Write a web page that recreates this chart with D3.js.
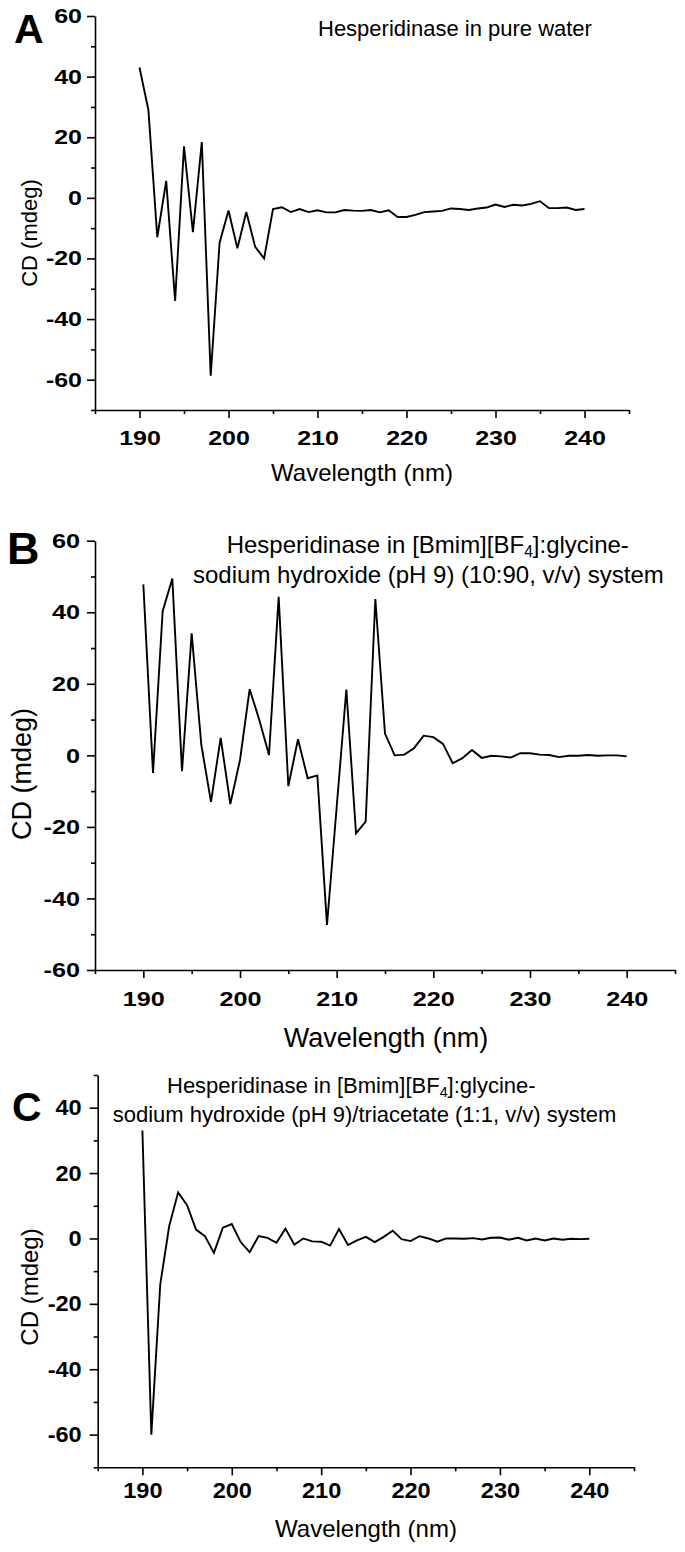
<!DOCTYPE html>
<html><head><meta charset="utf-8">
<script src="https://cdn.jsdelivr.net/npm/d3@7"></script>
<style>
body{margin:0;background:#fff}
svg{display:block;background:#fff}
text{font-family:"Liberation Sans",Arial,sans-serif;fill:#000}
</style>
</head><body>
<svg id="chart" width="685" height="1552"></svg>
<script>
// ---------- data ----------
const wavelength = [190,191,192,193,194,195,196,197,198,199,200,201,202,203,204,205,206,207,208,209,210,211,212,213,214,215,216,217,218,219,220,221,222,223,224,225,226,227,228,229,230,231,232,233,234,235,236,237,238,239,240];
const cdPureWater = [43,29,-13,5.6,-34,17,-11.3,18.4,-58.7,-14.8,-4.2,-16.6,-4.7,-16.2,-20,-3.7,-3.1,-4.7,-3.7,-4.7,-4.1,-4.8,-4.8,-4.0,-4.2,-4.3,-4.0,-4.8,-4.1,-6.3,-6.3,-5.6,-4.7,-4.5,-4.3,-3.5,-3.7,-4.0,-3.5,-3.2,-2.2,-3.0,-2.3,-2.5,-2.0,-1.1,-3.4,-3.4,-3.2,-4.0,-3.7];
const cdIonicLiquid = [47.8,-4.9,40.3,49.4,-4.4,34.1,2.9,-13,4.9,-13.6,-1.3,18.5,9.9,0.1,44.3,-8.6,4.5,-6.4,-5.6,-47.4,-14.5,18.4,-21.8,-18.5,43.7,6.1,0,0.2,2.0,5.5,5.1,3.2,-2.2,-0.8,1.5,-0.7,-0.1,-0.3,-0.6,0.6,0.6,0.2,0.1,-0.5,-0.1,-0.1,0.1,-0.1,0,0,-0.3];
const cdTriacetate = [33,-60,-14,3.8,14.1,10.2,2.7,0.7,-4.4,3.3,4.4,-1.1,-4.2,0.7,0.2,-1.3,3.0,-1.9,0,-0.9,-1.0,-2.2,2.9,-2.0,-0.6,0.5,-1.1,0.5,2.4,-0.2,-0.8,0.7,0,-1.0,0,0,-0.1,0.1,-0.3,0.2,0.3,-0.4,0.2,-0.6,0,-0.6,0,-0.4,-0.1,-0.2,-0.1];

const xTicks = [190,200,210,220,230,240];
const xMinorTicks = [185,195,205,215,225,235,245];
const xDomain = [185,245];
const yTicksA = [-60,-40,-20,0,20,40,60];
const yMinorA = [-70,-50,-30,-10,10,30,50];
const yDomainA = [-70,60];
const yTicksB = [-60,-40,-20,0,20,40,60];
const yMinorB = [-50,-30,-10,10,30,50];
const yDomainB = [-60,60];
const yTicksC = [-60,-40,-20,0,20,40];
const yMinorC = [-70,-50,-30,-10,10,30,50];
const yDomainC = [-70,50];

const xTitle = "Wavelength (nm)";
const yTitle = "CD (mdeg)";

// ---------- layout ----------
const panels = [
  {letter:"A", values:cdPureWater, yDomain:yDomainA, yTicks:yTicksA, yMinor:yMinorA,
   left:95, right:629, top:16, bottom:410,
   letterPos:[14,43,41], yTitlePos:[37,233,22], xTitlePos:[362,481,24],
   tickFont:20, stretch:1.25, xPad:13, yPad:5,
   title:[{parts:[["Hesperidinase in pure water"]], x:318, y:36, size:22}]},
  {letter:"B", values:cdIonicLiquid, yDomain:yDomainB, yTicks:yTicksB, yMinor:yMinorB,
   left:95, right:675, top:540.7, bottom:970,
   letterPos:[7,564,45], yTitlePos:[31,774,27], xTitlePos:[386,1047,27],
   tickFont:21, stretch:1.2, xPad:13, yPad:7,
   title:[{parts:[["Hesperidinase in [Bmim][BF"],["4","sub"],["]:glycine-"]], x:226.7, y:553, size:24},
          {parts:[["sodium hydroxide (pH 9) (10:90, v/v) system"]], x:193, y:583, size:24}]},
  {letter:"C", values:cdTriacetate, yDomain:yDomainC, yTicks:yTicksC, yMinor:yMinorC,
   left:97.7, right:634, top:1075, bottom:1467.3,
   letterPos:[12,1121,41], yTitlePos:[38,1287,24], xTitlePos:[366,1537,24],
   tickFont:22, stretch:1.07, xPad:7, yPad:8,
   title:[{parts:[["Hesperidinase in [Bmim][BF"],["4","sub"],["]:glycine-"]], x:167, y:1093, size:22},
          {parts:[["sodium hydroxide (pH 9)/triacetate (1:1, v/v) system"]], x:112.7, y:1121.7, size:22}]}
];

const svg = d3.select("#chart");
svg.append("rect").attr("width",685).attr("height",1552).attr("fill","#fff");

function stretch(sel, k){
  sel.each(function(){
    const w = this.getComputedTextLength();
    this.setAttribute("textLength", (w*k).toFixed(2));
    this.setAttribute("lengthAdjust","spacingAndGlyphs");
  });
}

panels.forEach(p => {
  const x = d3.scaleLinear().domain(xDomain).range([p.left, p.right]);
  const y = d3.scaleLinear().domain(p.yDomain).range([p.bottom, p.top]);
  const g = svg.append("g");

  // minor ticks
  g.append("g").attr("transform",`translate(0,${p.bottom})`)
    .call(d3.axisBottom(x).tickValues(xMinorTicks).tickSize(4).tickSizeOuter(0).tickFormat(""))
    .call(s=>s.select(".domain").remove());
  g.append("g").attr("transform",`translate(${p.left},0)`)
    .call(d3.axisLeft(y).tickValues(p.yMinor).tickSize(4).tickSizeOuter(0).tickFormat(""))
    .call(s=>s.select(".domain").remove());

  // major
  const xa = g.append("g").attr("transform",`translate(0,${p.bottom})`)
    .call(d3.axisBottom(x).tickValues(xTicks).tickSize(8).tickSizeOuter(0).tickPadding(p.xPad).tickFormat(d=>String(d)));
  const ya = g.append("g").attr("transform",`translate(${p.left},0)`)
    .call(d3.axisLeft(y).tickValues(p.yTicks).tickSize(8).tickSizeOuter(0).tickPadding(p.yPad).tickFormat(d=>String(d)));

  [xa,ya].forEach(a=>{
    a.selectAll("text").attr("font-size",p.tickFont).attr("font-weight","bold")
      .attr("font-family","'Liberation Sans',Arial,sans-serif").attr("fill","#000");
    stretch(a.selectAll("text"), p.stretch);
  });
  g.selectAll(".domain").attr("stroke","#000").attr("stroke-width",1.6);
  g.selectAll(".tick line").attr("stroke","#000").attr("stroke-width",1.6);

  // data line
  const line = d3.line().x((d,i)=>x(wavelength[i])).y(d=>y(d));
  g.append("path").datum(p.values).attr("d",line)
    .attr("fill","none").attr("stroke","#000").attr("stroke-width",1.9).attr("stroke-linejoin","miter");

  // panel letter
  svg.append("text").attr("x",p.letterPos[0]).attr("y",p.letterPos[1])
    .attr("font-size",p.letterPos[2]).attr("font-weight","bold").text(p.letter);

  // axis titles
  svg.append("text").attr("transform",`translate(${p.yTitlePos[0]},${p.yTitlePos[1]}) rotate(-90)`)
    .attr("text-anchor","middle").attr("font-size",p.yTitlePos[2]).text(yTitle);
  svg.append("text").attr("x",p.xTitlePos[0]).attr("y",p.xTitlePos[1])
    .attr("text-anchor","middle").attr("font-size",p.xTitlePos[2]).text(xTitle);

  // title lines
  p.title.forEach(t=>{
    const tx = svg.append("text").attr("x",t.x).attr("y",t.y).attr("font-size",t.size);
    t.parts.forEach((pt,k)=>{
      if(pt[1]==="sub"){
        tx.append("tspan").attr("font-size",t.size*0.65).attr("dy",t.size*0.18).text(pt[0]);
      } else {
        const ts = tx.append("tspan").text(pt[0]);
        if(k>0) ts.attr("dy",-t.size*0.18);
      }
    });
  });
});
</script>
</body></html>
